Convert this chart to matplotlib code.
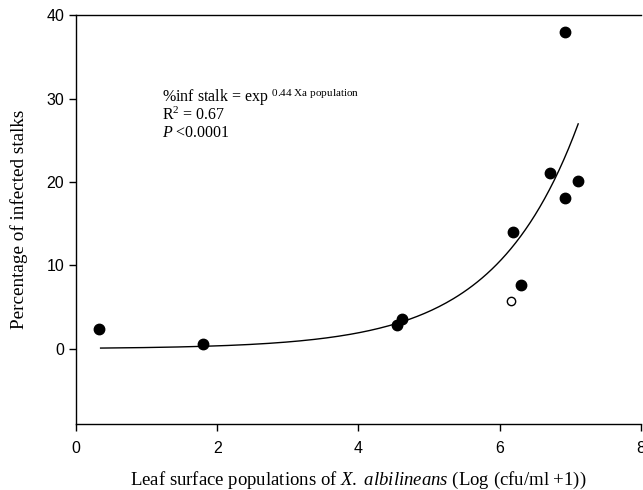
import numpy as np
import matplotlib
matplotlib.use("Agg")
import matplotlib.pyplot as plt

plt.rcParams['mathtext.fontset'] = 'custom'
plt.rcParams['mathtext.rm'] = 'Liberation Serif'
plt.rcParams['mathtext.it'] = 'Liberation Serif:italic'
plt.rcParams['mathtext.bf'] = 'Liberation Serif:bold'

# data
x_filled = [0.33, 1.80, 4.54, 4.61, 6.19, 6.30, 6.71, 6.92, 6.92, 7.11]
y_filled = [2.4, 0.6, 2.8, 3.6, 14.0, 7.6, 21.1, 38.0, 18.1, 20.1]
x_open = [6.16]
y_open = [5.7]
fit_a = 0.064
fit_b = 0.85
fit_xmin, fit_xmax = 0.35, 7.11
xticks = [0, 2, 4, 6, 8]
yticks = [0, 10, 20, 30, 40]

fig = plt.figure(figsize=(6.43, 4.9), dpi=100)
ax = fig.add_axes([0.118, 0.135, 0.879, 0.834])

xf = np.linspace(fit_xmin, fit_xmax, 200)
ax.plot(xf, fit_a * np.exp(fit_b * xf), color='black', lw=1.0)
ax.plot(x_filled, y_filled, 'o', color='black', ms=7.5, zorder=3)
ax.plot(x_open, y_open, 'o', mfc='white', mec='black', mew=1.0, ms=6, zorder=3)

ax.set_xlim(0, 8)
ax.set_ylim(-9, 40)
ax.set_xticks(xticks)
ax.set_yticks(yticks)
ax.spines['right'].set_visible(False)
for s in ['left', 'bottom', 'top']:
    ax.spines[s].set_linewidth(1.0)
ax.tick_params(direction='out', length=5, width=1, labelsize=11.5)
ax.tick_params(axis='x', pad=7)
for lab in ax.get_xticklabels() + ax.get_yticklabels():
    lab.set_fontfamily('Liberation Sans')

ax.set_ylabel('Percentage of infected stalks', family='Liberation Serif', fontsize=13.8)
ax.yaxis.set_label_coords(-0.084, 0.5)
ax.set_xlabel(r'Leaf surface populations of $\it{X.}$ $\it{albilineans}$ (Log (cfu/ml +1))',
              family='Liberation Serif', fontsize=13.5, va='center')
ax.xaxis.set_label_coords(0.5, -0.138)

tx = 0.152
ax.text(tx, 0.799, r'%inf stalk = exp $^{\mathrm{0.44\ Xa\ population}}$', transform=ax.transAxes,
        family='Liberation Serif', fontsize=11.5, va='center')
ax.text(tx, 0.755, r'R$^{2}$ = 0.67', transform=ax.transAxes,
        family='Liberation Serif', fontsize=11.5, va='center')
ax.text(tx, 0.711, r'$\it{P}$ <0.0001', transform=ax.transAxes,
        family='Liberation Serif', fontsize=11.5, va='center')

fig.savefig('out.png', dpi=100)
